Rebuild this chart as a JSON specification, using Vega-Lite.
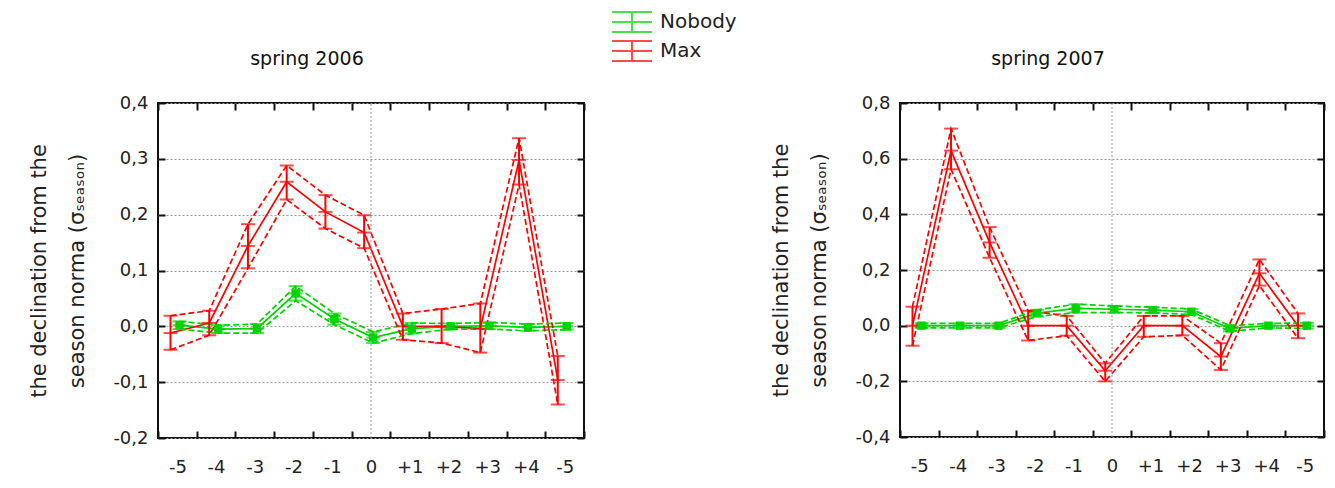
{
  "$schema": "https://vega.github.io/schema/vega-lite/v6.json",
  "background": "white",
  "padding": {"left": 27, "top": 7, "right": 5, "bottom": 5},
  "spacing": 183,
  "datasets": {
    "y2006": [
      {"t": 1, "s": "Nobody", "m": 0.002, "lo": -0.005, "hi": 0.009},
      {"t": 2, "s": "Nobody", "m": -0.005, "lo": -0.012, "hi": 0.002},
      {"t": 3, "s": "Nobody", "m": -0.004, "lo": -0.012, "hi": 0.004},
      {"t": 4, "s": "Nobody", "m": 0.059, "lo": 0.046, "hi": 0.072},
      {"t": 5, "s": "Nobody", "m": 0.013, "lo": 0.003, "hi": 0.023},
      {"t": 6, "s": "Nobody", "m": -0.02, "lo": -0.03, "hi": -0.01},
      {"t": 7, "s": "Nobody", "m": -0.004, "lo": -0.013, "hi": 0.006},
      {"t": 8, "s": "Nobody", "m": 0.0, "lo": -0.005, "hi": 0.005},
      {"t": 9, "s": "Nobody", "m": 0.001, "lo": -0.005, "hi": 0.007},
      {"t": 10, "s": "Nobody", "m": -0.002, "lo": -0.008, "hi": 0.004},
      {"t": 11, "s": "Nobody", "m": 0.0, "lo": -0.006, "hi": 0.006},
      {"t": 1, "s": "Max", "m": -0.012, "lo": -0.042, "hi": 0.019},
      {"t": 2, "s": "Max", "m": 0.006, "lo": -0.016, "hi": 0.028},
      {"t": 3, "s": "Max", "m": 0.144, "lo": 0.104, "hi": 0.183},
      {"t": 4, "s": "Max", "m": 0.259, "lo": 0.227, "hi": 0.288},
      {"t": 5, "s": "Max", "m": 0.205, "lo": 0.175, "hi": 0.235},
      {"t": 6, "s": "Max", "m": 0.168, "lo": 0.14, "hi": 0.199},
      {"t": 7, "s": "Max", "m": 0.0, "lo": -0.024, "hi": 0.023},
      {"t": 8, "s": "Max", "m": 0.0, "lo": -0.03, "hi": 0.031},
      {"t": 9, "s": "Max", "m": -0.004, "lo": -0.047, "hi": 0.041},
      {"t": 10, "s": "Max", "m": 0.298, "lo": 0.254, "hi": 0.337},
      {"t": 11, "s": "Max", "m": -0.096, "lo": -0.14, "hi": -0.053}
    ],
    "y2007": [
      {"t": 1, "s": "Nobody", "m": 0.0, "lo": -0.008, "hi": 0.008},
      {"t": 2, "s": "Nobody", "m": 0.0, "lo": -0.008, "hi": 0.008},
      {"t": 3, "s": "Nobody", "m": 0.0, "lo": -0.008, "hi": 0.008},
      {"t": 4, "s": "Nobody", "m": 0.045, "lo": 0.033, "hi": 0.057},
      {"t": 5, "s": "Nobody", "m": 0.062, "lo": 0.047, "hi": 0.077},
      {"t": 6, "s": "Nobody", "m": 0.059, "lo": 0.047, "hi": 0.071},
      {"t": 7, "s": "Nobody", "m": 0.056, "lo": 0.046, "hi": 0.066},
      {"t": 8, "s": "Nobody", "m": 0.05, "lo": 0.04, "hi": 0.06},
      {"t": 9, "s": "Nobody", "m": -0.01, "lo": -0.02, "hi": 0.0},
      {"t": 10, "s": "Nobody", "m": 0.0, "lo": -0.008, "hi": 0.008},
      {"t": 11, "s": "Nobody", "m": 0.0, "lo": -0.01, "hi": 0.01},
      {"t": 1, "s": "Max", "m": 0.0, "lo": -0.072, "hi": 0.068},
      {"t": 2, "s": "Max", "m": 0.629, "lo": 0.562, "hi": 0.708},
      {"t": 3, "s": "Max", "m": 0.299, "lo": 0.244, "hi": 0.354},
      {"t": 4, "s": "Max", "m": 0.0, "lo": -0.053, "hi": 0.054},
      {"t": 5, "s": "Max", "m": 0.0, "lo": -0.036, "hi": 0.035},
      {"t": 6, "s": "Max", "m": -0.162, "lo": -0.2, "hi": -0.135},
      {"t": 7, "s": "Max", "m": 0.0, "lo": -0.04, "hi": 0.035},
      {"t": 8, "s": "Max", "m": 0.0, "lo": -0.035, "hi": 0.035},
      {"t": 9, "s": "Max", "m": -0.111, "lo": -0.159, "hi": -0.063},
      {"t": 10, "s": "Max", "m": 0.188, "lo": 0.144, "hi": 0.238},
      {"t": 11, "s": "Max", "m": 0.0, "lo": -0.045, "hi": 0.044}
    ]
  },
  "hconcat": [
    {
      "width": 426,
      "height": 335,
      "title": {"text": "spring  2006"},
      "data": {"name": "y2006"},
      "layer": [
        {
          "encoding": {
            "x": {"field": "t", "type": "ordinal", "title": null,
              "scale": {"type": "band", "domain": [1,2,3,4,5,6,7,8,9,10,11], "paddingInner": 0, "paddingOuter": 0},
              "axis": {"orient": "bottom", "tickBand": "extent", "labelExpr": "['-5','-4','-3','-2','-1','0','+1','+2','+3','+4','-5'][datum.value-1]"}},
            "xOffset": {"field": "s", "type": "nominal", "scale": {"domain": ["Max", "Nobody"], "range": [8, 26]}},
            "color": {"field": "s", "type": "nominal",
              "scale": {"domain": ["Nobody", "Max"], "range": ["#00d400", "#ff0000"]},
              "legend": {"orient": "none", "legendX": 459, "legendY": -96, "title": null,
                "symbolType": "M-1.43,-0.71H1.43M-1.43,0H1.43M-1.43,0.71H1.43M0,-0.71V0.71",
                "symbolSize": 784, "symbolStrokeWidth": 2, "symbolFillColor": "transparent",
                "labelFontSize": 20, "labelOffset": 13, "rowPadding": 0, "padding": 0, "labelColor": "#222"}}
          },
          "layer": [
            {"mark": {"type": "line", "strokeWidth": 1.7},
             "encoding": {"y": {"field": "m", "type": "quantitative", "title": ["the declination from the", "season norma (σₛₑₐₛₒₙ)"],
               "scale": {"domain": [-0.2, 0.4], "nice": false, "zero": false},
               "axis": {"values": [-0.2,-0.1,0,0.1,0.2,0.3,0.4], "grid": true}}}},
            {"transform": [{"fold": ["lo", "hi"], "as": ["k", "v"]}],
             "mark": {"type": "line", "strokeWidth": 1.7, "strokeDash": [6, 3]},
             "encoding": {"y": {"field": "v", "type": "quantitative", "title": ["the declination from the", "season norma (σₛₑₐₛₒₙ)"]}, "detail": {"field": "k"}}},
            {"mark": {"type": "rule", "strokeWidth": 2},
             "encoding": {"y": {"field": "lo", "type": "quantitative", "title": ["the declination from the", "season norma (σₛₑₐₛₒₙ)"]}, "y2": {"field": "hi"}}},
            {"transform": [{"fold": ["lo", "hi", "m"], "as": ["k", "v"]}],
             "mark": {"type": "tick", "size": 14, "thickness": 2},
             "encoding": {"y": {"field": "v", "type": "quantitative", "title": ["the declination from the", "season norma (σₛₑₐₛₒₙ)"]}}},
            {"transform": [{"filter": "datum.s === 'Nobody'"}],
             "mark": {"type": "point", "shape": "square", "filled": true, "size": 70, "opacity": 1},
             "encoding": {"y": {"field": "m", "type": "quantitative", "title": ["the declination from the", "season norma (σₛₑₐₛₒₙ)"]}}}
          ]
        },
        {
          "data": {"values": [{}]},
          "mark": {"type": "rule", "color": "#999", "strokeDash": [2, 2], "strokeWidth": 1},
          "encoding": {
            "x": {"datum": 6, "type": "ordinal", "axis": {"orient": "top", "labels": false, "title": null, "tickBand": "extent"}},
            "y": {"datum": -0.2, "type": "quantitative", "axis": {"orient": "right", "labels": false, "title": null, "grid": false, "values": [-0.2,-0.1,0,0.1,0.2,0.3,0.4]}},
            "y2": {"datum": 0.4}
          }
        }
      ],
      "resolve": {"axis": {"x": "independent", "y": "independent"}}
    },
    {
      "width": 424,
      "height": 334,
      "title": {"text": "spring 2007"},
      "data": {"name": "y2007"},
      "layer": [
        {
          "encoding": {
            "x": {"field": "t", "type": "ordinal", "title": null,
              "scale": {"type": "band", "domain": [1,2,3,4,5,6,7,8,9,10,11], "paddingInner": 0, "paddingOuter": 0},
              "axis": {"orient": "bottom", "tickBand": "extent", "labelExpr": "['-5','-4','-3','-2','-1','0','+1','+2','+3','+4','-5'][datum.value-1]"}},
            "xOffset": {"field": "s", "type": "nominal", "scale": {"domain": ["Max", "Nobody"], "range": [8, 26]}},
            "color": {"field": "s", "type": "nominal",
              "scale": {"domain": ["Nobody", "Max"], "range": ["#00d400", "#ff0000"]}}
          },
          "layer": [
            {"mark": {"type": "line", "strokeWidth": 1.7},
             "encoding": {"y": {"field": "m", "type": "quantitative", "title": ["the declination from the", "season norma (σₛₑₐₛₒₙ)"],
               "scale": {"domain": [-0.4, 0.8], "nice": false, "zero": false},
               "axis": {"values": [-0.4,-0.2,0,0.2,0.4,0.6,0.8], "grid": true}}}},
            {"transform": [{"fold": ["lo", "hi"], "as": ["k", "v"]}],
             "mark": {"type": "line", "strokeWidth": 1.7, "strokeDash": [6, 3]},
             "encoding": {"y": {"field": "v", "type": "quantitative", "title": ["the declination from the", "season norma (σₛₑₐₛₒₙ)"]}, "detail": {"field": "k"}}},
            {"mark": {"type": "rule", "strokeWidth": 2},
             "encoding": {"y": {"field": "lo", "type": "quantitative", "title": ["the declination from the", "season norma (σₛₑₐₛₒₙ)"]}, "y2": {"field": "hi"}}},
            {"transform": [{"fold": ["lo", "hi", "m"], "as": ["k", "v"]}],
             "mark": {"type": "tick", "size": 14, "thickness": 2},
             "encoding": {"y": {"field": "v", "type": "quantitative", "title": ["the declination from the", "season norma (σₛₑₐₛₒₙ)"]}}},
            {"transform": [{"filter": "datum.s === 'Nobody'"}],
             "mark": {"type": "point", "shape": "square", "filled": true, "size": 70, "opacity": 1},
             "encoding": {"y": {"field": "m", "type": "quantitative", "title": ["the declination from the", "season norma (σₛₑₐₛₒₙ)"]}}}
          ]
        },
        {
          "data": {"values": [{}]},
          "mark": {"type": "rule", "color": "#999", "strokeDash": [2, 2], "strokeWidth": 1},
          "encoding": {
            "x": {"datum": 6, "type": "ordinal", "axis": {"orient": "top", "labels": false, "title": null, "tickBand": "extent"}},
            "y": {"datum": -0.4, "type": "quantitative", "axis": {"orient": "right", "labels": false, "title": null, "grid": false, "values": [-0.4,-0.2,0,0.2,0.4,0.6,0.8]}},
            "y2": {"datum": 0.8}
          }
        }
      ],
      "resolve": {"axis": {"x": "independent", "y": "independent"}}
    }
  ],
  "config": {
    "font": "DejaVu Sans",
    "view": {"stroke": "#111", "strokeWidth": 2},
    "title": {"fontSize": 19, "fontWeight": "normal", "color": "#111", "offset": 25, "frame": "bounds", "anchor": "middle"},
    "axis": {
      "domain": false,
      "tickColor": "#111", "tickWidth": 2, "tickSize": -7,
      "labelFontSize": 18, "labelColor": "#222", "labelPadding": 17,
      "titleFontSize": 21, "titleFontWeight": "normal", "titleColor": "#222", "titleLineHeight": 38, "titlePadding": 25,
      "gridColor": "#999", "gridDash": [2, 2], "gridWidth": 1
    },
    "axisX": {"labelAngle": 0, "grid": false, "labelPadding": 27},
    "axisY": {"labelExpr": "replace(replace(format(datum.value, '.1f'), '.', ','), '\u2212', '-')"}
  }
}
